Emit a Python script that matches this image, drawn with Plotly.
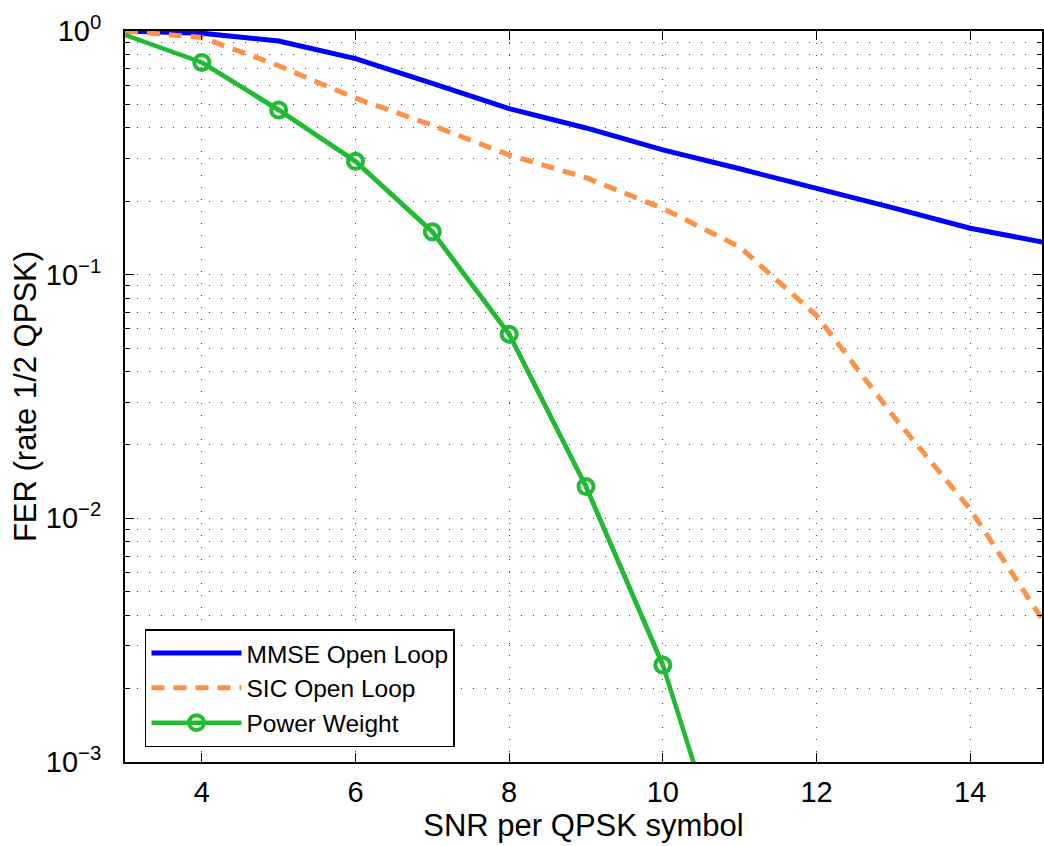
import plotly.graph_objects as go

# ---- data ----
snr = [3, 4, 5, 6, 7, 8, 9, 10, 11, 12, 13, 14, 15]
mmse_open_loop = [1.0, 0.98, 0.91, 0.77, 0.61, 0.48, 0.40, 0.325, 0.272, 0.227, 0.188, 0.155, 0.135]
sic_open_loop = [1.0, 0.94, 0.72, 0.53, 0.41, 0.31, 0.25, 0.187, 0.13, 0.068, 0.0263, 0.0109, 0.0036]
pw_snr = [3, 4, 5, 6, 7, 8, 9, 10, 11]
power_weight = [0.965, 0.743, 0.474, 0.292, 0.150, 0.057, 0.0135, 0.0025, 0.00025]
pw_marker_snr = pw_snr[1:8]
pw_marker_val = power_weight[1:8]

y_tickvals = [1, 0.1, 0.01, 0.001]
y_ticktext = ["10<sup>0</sup>", "10<sup>−1</sup>", "10<sup>−2</sup>", "10<sup>−3</sup>"]
x_tickvals = [4, 6, 8, 10, 12, 14]
y_minor = [m * 10.0 ** e for e in (-3, -2, -1) for m in range(2, 10)]

BLUE = "#0000FF"
ORANGE = "#FF9146"
GREEN = "#20BB33"
FONT = "Liberation Sans, Arial, Helvetica, sans-serif"
GRID = "#444444"

fig = go.Figure()
fig.add_trace(go.Scatter(x=snr, y=mmse_open_loop, mode="lines", name="MMSE Open Loop",
                         line=dict(color=BLUE, width=5)))
fig.add_trace(go.Scatter(x=snr, y=sic_open_loop, mode="lines", name="SIC Open Loop",
                         line=dict(color=ORANGE, width=5, dash="13px,9px")))
fig.add_trace(go.Scatter(x=pw_snr, y=power_weight, mode="lines", showlegend=False,
                         line=dict(color=GREEN, width=4.5)))
fig.add_trace(go.Scatter(x=pw_marker_snr, y=pw_marker_val, mode="lines+markers", name="Power Weight",
                         line=dict(color=GREEN, width=4.5),
                         marker=dict(symbol="circle-open", size=15, color=GREEN,
                                     line=dict(width=4, color=GREEN))))

fig.update_layout(
    width=1044, height=846,
    margin=dict(l=125, r=0, t=31, b=84),
    paper_bgcolor="white", plot_bgcolor="white",
    font=dict(family=FONT, size=29, color="black"),
    showlegend=True,
    legend=dict(x=0.0218, y=0.0205, xanchor="left", yanchor="bottom",
                bgcolor="white", bordercolor="black", borderwidth=1.5,
                font=dict(size=24.5, family=FONT), itemwidth=90,
                tracegroupgap=0),
)
fig.update_xaxes(
    range=[3, 14.935], tickvals=x_tickvals, ticks="inside", ticklen=9, tickwidth=1.2,
    tickcolor="black", showline=True, linecolor="black", linewidth=2, mirror="allticks",
    showgrid=True, gridcolor=GRID, gridwidth=1, griddash="1px,11px", zeroline=False,
    ticklabelstandoff=3,
    title=dict(text="SNR per QPSK symbol", font=dict(size=31, family=FONT), standoff=0),
)
fig.update_yaxes(
    type="log", range=[-3, 0], tickvals=y_tickvals, ticktext=y_ticktext,
    ticks="inside", ticklen=9, tickwidth=1.2, tickcolor="black",
    showline=True, linecolor="black", linewidth=2, mirror="allticks",
    showgrid=True, gridcolor=GRID, gridwidth=1, griddash="1px,11px", zeroline=False,
    ticklabelstandoff=16,
    minor=dict(tickvals=y_minor, ticks="inside", ticklen=5, tickcolor="black",
               showgrid=True, gridcolor=GRID, gridwidth=1, griddash="1px,11px"),
    title=dict(text="FER (rate 1/2 QPSK)", font=dict(size=31, family=FONT), standoff=0),
)

fig.write_html("out.html", config={"displayModeBar": False},
               post_script="document.body.style.margin='0px';")
